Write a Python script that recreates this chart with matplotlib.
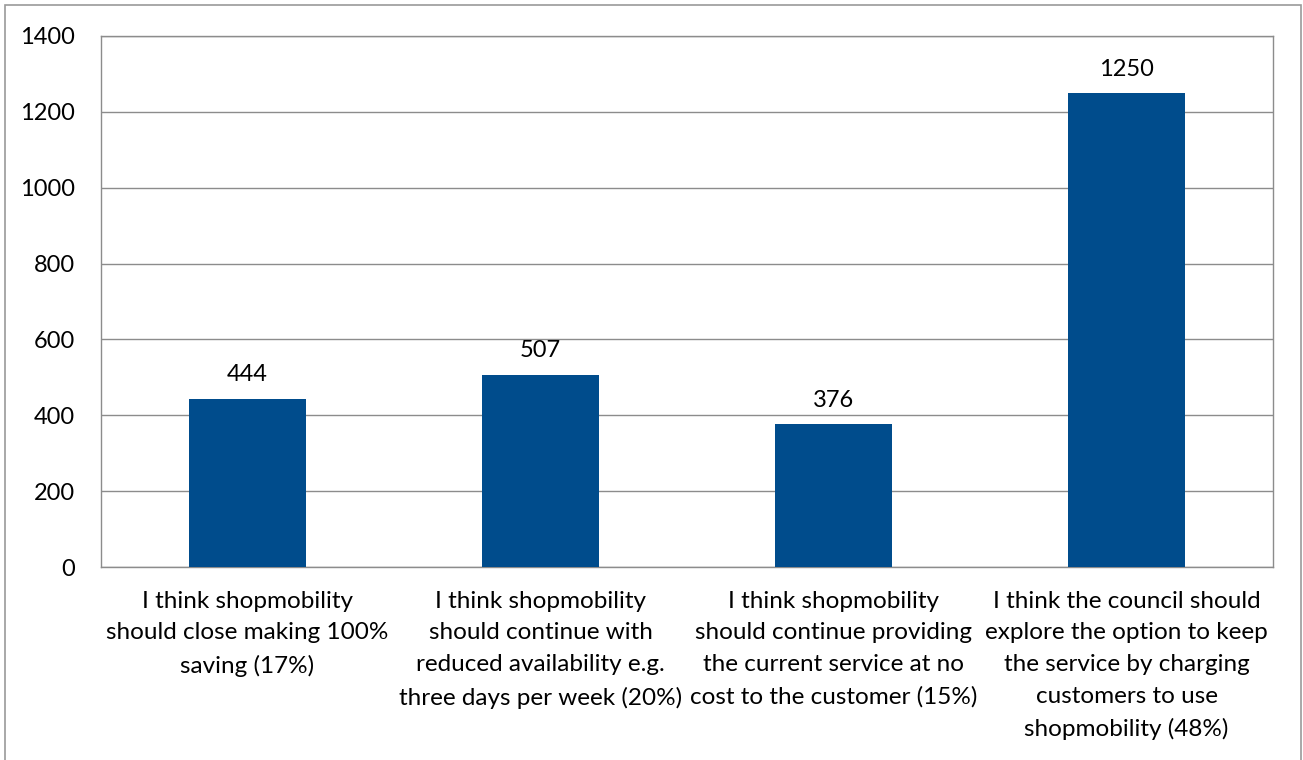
import matplotlib.pyplot as plt
from matplotlib.patches import Rectangle

categories = [
    "I think shopmobility\nshould close making 100%\nsaving (17%)",
    "I think shopmobility\nshould continue with\nreduced availability e.g.\nthree days per week (20%)",
    "I think shopmobility\nshould continue providing\nthe current service at no\ncost to the customer (15%)",
    "I think the council should\nexplore the option to keep\nthe service by charging\ncustomers to use\nshopmobility (48%)",
]
values = [444, 507, 376, 1250]
yticks = [0, 200, 400, 600, 800, 1000, 1200, 1400]

plt.rcParams['font.family'] = ['Lato', 'DejaVu Sans']

fig = plt.figure(figsize=(13.03, 7.6), dpi=100)
ax = fig.add_axes([101 / 1303, 1 - 567 / 760, (1273 - 101) / 1303, (567 - 36) / 760])

# outer chart border
fig.patches.append(Rectangle((5 / 1303, -0.05), 1296 / 1303, 1 - 5 / 760 + 0.05,
                             transform=fig.transFigure, fill=False,
                             edgecolor='#9a9a9a', linewidth=1.2))

x = list(range(len(values)))
ax.bar(x, values, width=0.4, color='#004C8C', zorder=3)
for xi, v in zip(x, values):
    ax.text(xi, v + 35, str(v), ha='center', va='bottom', fontsize=17)

ax.set_xlim(-0.5, len(values) - 0.5)
ax.set_ylim(0, 1400)
ax.set_yticks(yticks)
ax.tick_params(axis='y', length=0, pad=19, labelsize=17)
ax.set_xticks(x)
ax.set_xticklabels(categories, fontsize=17.5, linespacing=1.63, va='top')
ax.tick_params(axis='x', length=0, pad=17)
ax.grid(axis='y', color='#8c8c8c', linewidth=1, zorder=0)
for s in ax.spines.values():
    s.set_color('#8c8c8c')
    s.set_linewidth(1)

fig.savefig('out.png', dpi=100)
